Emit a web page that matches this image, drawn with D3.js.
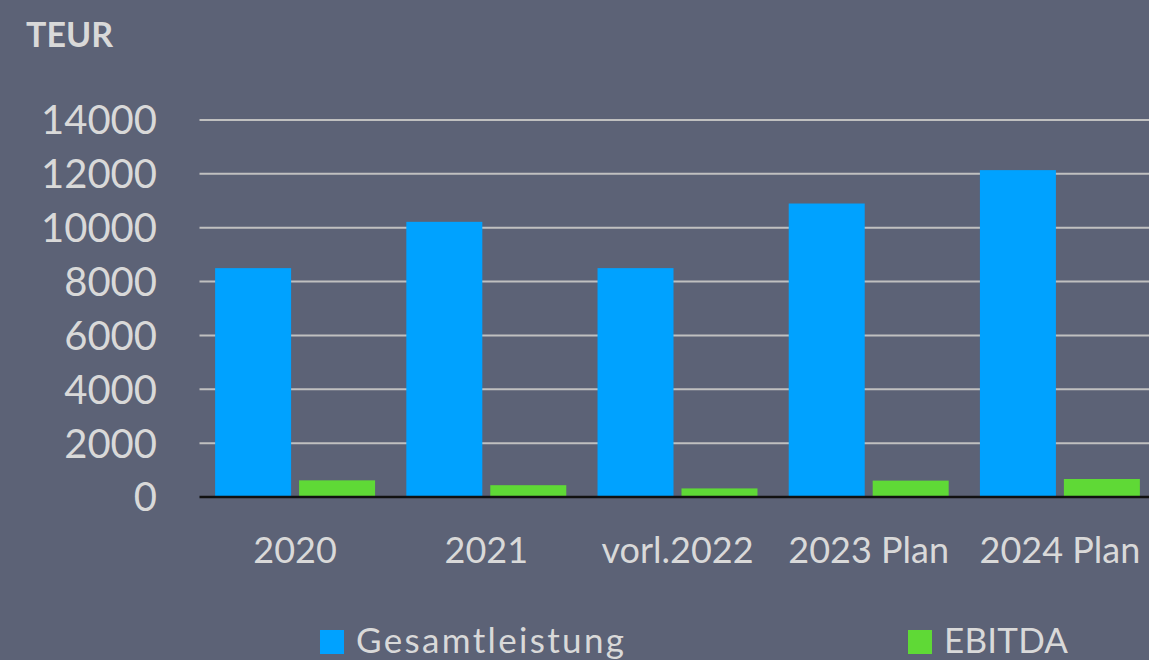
<!DOCTYPE html>
<html>
<head>
<meta charset="utf-8">
<script src="https://cdn.jsdelivr.net/npm/d3@7/dist/d3.min.js"></script>
<style>
  html, body { margin: 0; padding: 0; background: #5c6276; overflow: hidden; }
  svg { display: block; }
  text { font-family: Lato, "Open Sans", sans-serif; fill: #d9d9d9; }
</style>
</head>
<body>
<svg id="chart" width="1149" height="660"></svg>
<script>
const categories = ["2020", "2021", "vorl.2022", "2023 Plan", "2024 Plan"];
const seriesNames = ["Gesamtleistung", "EBITDA"];
const gesamtleistung = [8480, 10200, 8480, 10880, 12120];
const ebitda = [600, 420, 300, 590, 650];
const yTicks = [0, 2000, 4000, 6000, 8000, 10000, 12000, 14000];
const colors = ["#00a2ff", "#5fd936"];
const unitLabel = "TEUR";

const svg = d3.select("#chart");
const W = 1149, H = 660;
svg.append("rect").attr("width", W).attr("height", H).attr("fill", "#5c6276");

const plotLeft = 199.5, plotRight = 1155.5;
const y0 = 496.5, yTop = 119.5;

const x = d3.scaleBand().domain(categories).range([plotLeft, plotRight]).paddingInner(0).paddingOuter(0);
const xs = d3.scaleBand().domain(seriesNames).range([0, x.bandwidth()]).paddingInner(0.095).paddingOuter(0.186);
const y = d3.scaleLinear().domain([0, 14000]).range([y0, yTop]);

// gridlines
const grid = svg.append("g").attr("transform", `translate(${plotLeft},0)`)
  .call(d3.axisLeft(y).tickValues(yTicks.filter(v => v > 0)).tickSize(-(plotRight - plotLeft)).tickFormat(""));
grid.select(".domain").remove();
grid.selectAll(".tick line").attr("stroke", "#c0c0c0").attr("stroke-width", 2);

// y tick labels
const yAx = svg.append("g").attr("transform", `translate(157,0)`)
  .call(d3.axisLeft(y).tickValues(yTicks).tickSize(0).tickPadding(0).tickFormat(d3.format("d")));
yAx.select(".domain").remove();
yAx.selectAll(".tick text")
  .attr("font-size", 40).attr("fill", "#d9d9d9")
  .attr("font-family", "Lato, 'Open Sans', sans-serif")
  .attr("dy", "0.36em").attr("x", 0);

// bars
const data = categories.map((c, i) => ({ cat: c, vals: [gesamtleistung[i], ebitda[i]] }));
const groups = svg.append("g").selectAll("g").data(data).join("g")
  .attr("transform", d => `translate(${x(d.cat)},0)`);
groups.selectAll("rect").data(d => d.vals.map((v, j) => ({ name: seriesNames[j], v, j })))
  .join("rect")
  .attr("x", d => xs(d.name))
  .attr("width", xs.bandwidth())
  .attr("y", d => y(d.v))
  .attr("height", d => y0 - y(d.v))
  .attr("fill", d => colors[d.j]);

// baseline
svg.append("line").attr("x1", plotLeft).attr("x2", plotRight).attr("y1", y0 + 0.5).attr("y2", y0 + 0.5)
  .attr("stroke", "#111").attr("stroke-width", 2.5);

// x labels
const xAx = svg.append("g").attr("transform", `translate(0,${y0})`)
  .call(d3.axisBottom(x).tickSize(0).tickPadding(0));
xAx.select(".domain").remove();
xAx.selectAll(".tick text")
  .attr("font-size", 36).attr("fill", "#d9d9d9")
  .attr("font-family", "Lato, 'Open Sans', sans-serif")
  .attr("y", 66).attr("dy", 0);

// unit label
svg.append("text").attr("x", 26).attr("y", 46.5).attr("font-size", 34).attr("font-weight", "bold")
  .attr("fill", "#d9d9d9").text(unitLabel);

// legend
const legendX = [320, 908];
const legendTextW = [268, 124];
seriesNames.forEach((n, i) => {
  svg.append("rect").attr("x", legendX[i]).attr("y", 630).attr("width", 24).attr("height", 24).attr("fill", colors[i]);
  svg.append("text").attr("x", legendX[i] + 36).attr("y", 653).attr("font-size", 35)
    .attr("textLength", legendTextW[i]).attr("lengthAdjust", "spacing")
    .attr("fill", "#d9d9d9").text(n);
});
</script>
</body>
</html>
